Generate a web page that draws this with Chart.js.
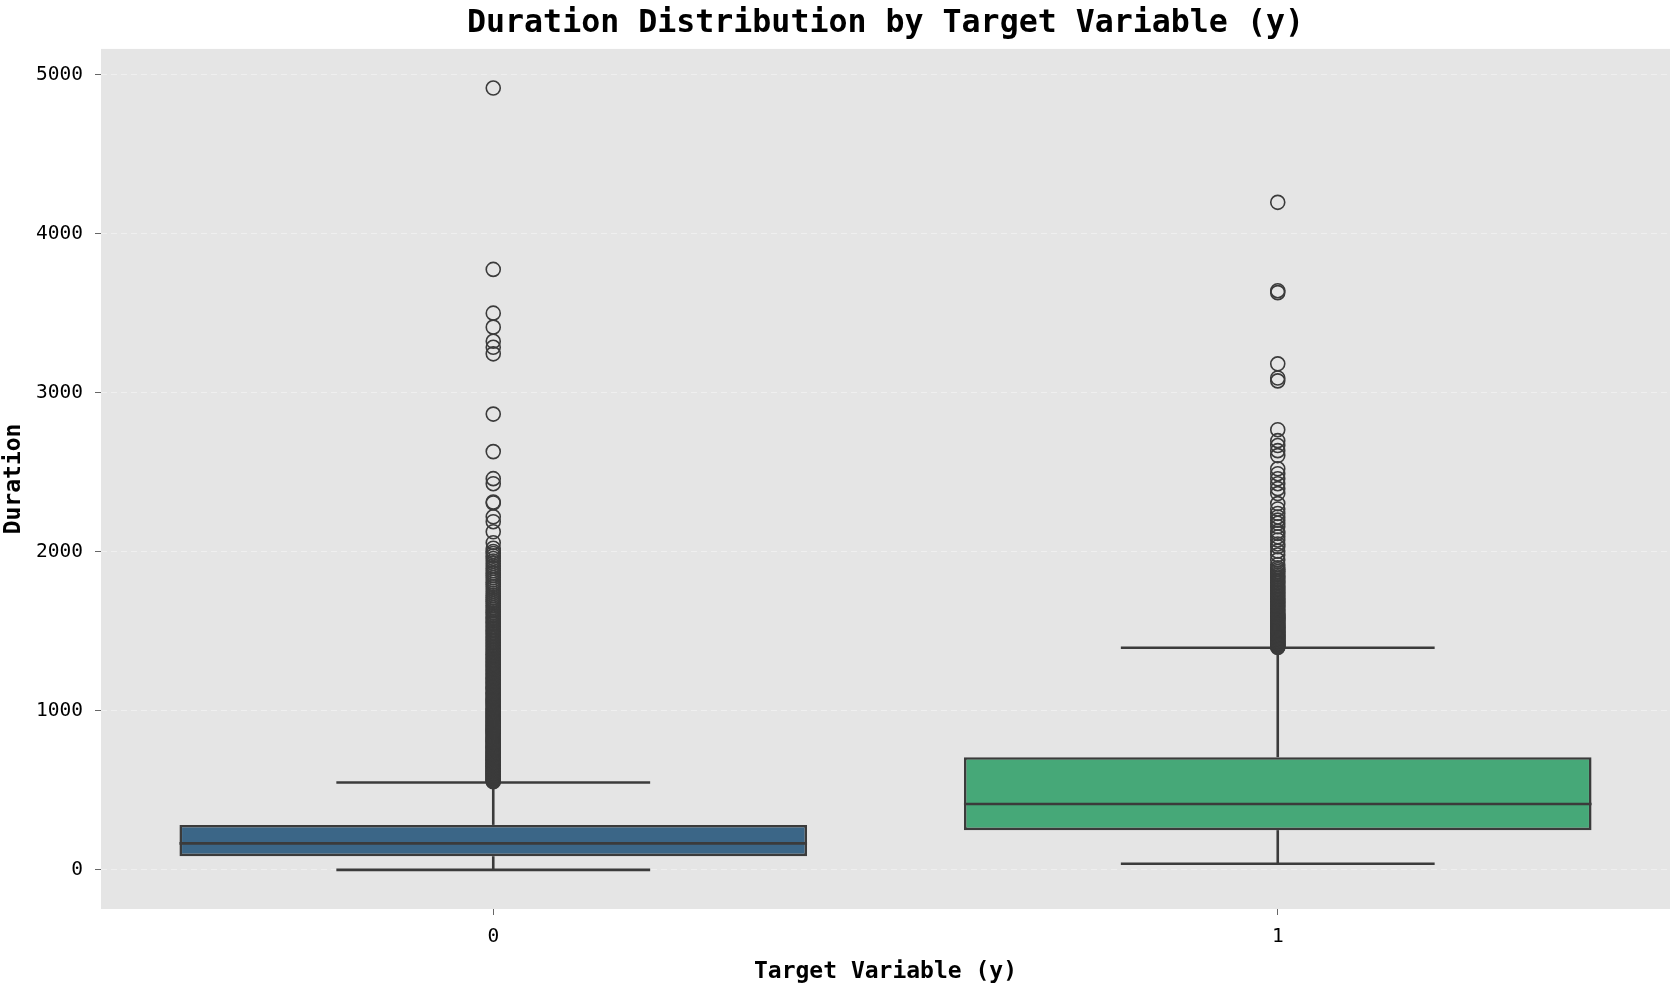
<!DOCTYPE html>
<html>
<head>
<meta charset="utf-8">
<script src="https://cdn.jsdelivr.net/npm/chart.js@4/dist/chart.umd.min.js"></script>
<style>
    body { margin: 0; background: #ffffff; }
    #wrap { width: 1672px; height: 986px; }
</style>
</head>
<body>
<div id="wrap"><canvas id="box-chart" width="1672" height="986"></canvas></div>
<script>
// categories of y and box statistics
const categories = ['0', '1'];
const q1 = [86, 250];
const medians = [167, 414];
const q3 = [283, 709];
const whiskerLow = [0, 39];
const whiskerHigh = [550, 1397];

// outliers (y = 0): solid column above the whisker, then sparse points
const outliers0 = [
    555, 559, 563, 567, 571, 576, 580, 584, 589, 593, 597, 602, 606, 611, 615, 620,
    624, 629, 633, 638, 643, 647, 652, 657, 661, 666, 671, 676, 681, 686, 690, 695,
    700, 705, 710, 716, 721, 726, 731, 736, 741, 747, 752, 757, 763, 768, 773, 779,
    784, 790, 795, 801, 806, 812, 818, 823, 829, 835, 840, 846, 852, 858, 864, 870,
    876, 882, 888, 894, 900, 906, 912, 919, 925, 931, 937, 944, 950, 957, 963, 970,
    976, 983, 989, 996,
    1003, 1010, 1017, 1024, 1031, 1038, 1045, 1052, 1059, 1066, 1074, 1081, 1088, 1096,
    1103, 1111, 1118, 1126, 1134, 1141, 1149, 1157, 1165, 1173, 1181, 1189, 1197, 1205,
    1213, 1221, 1230, 1238, 1246, 1255, 1263, 1272, 1280, 1289, 1298, 1306, 1315, 1324,
    1333, 1342, 1351, 1360, 1369, 1378, 1388, 1397, 1406, 1416, 1425, 1435, 1444, 1454,
    1464, 1473, 1483, 1493, 1503, 1513, 1523, 1533, 1544, 1554, 1564, 1575, 1585, 1596,
    1606, 1617, 1628, 1639, 1650,
    1662, 1675, 1688, 1700, 1713, 1727, 1740, 1753, 1767, 1781, 1795, 1809, 1823, 1838,
    1852, 1867, 1882, 1897, 1912, 1928, 1943, 1959, 1975, 1990, 2003,
    2023, 2058, 2127, 2190, 2221, 2308, 2314, 2429, 2461, 2631, 2867,
    3246, 3287, 3325, 3414, 3502, 3777, 4918
];

// outliers (y = 1)
const outliers1 = [
    1399, 1403, 1407, 1411, 1416, 1420, 1424, 1429, 1433, 1438, 1442, 1447, 1452, 1456,
    1461, 1466, 1471, 1476, 1481, 1486, 1491, 1496, 1501, 1507, 1512, 1517, 1523, 1528,
    1534, 1540, 1545, 1551, 1557, 1563, 1569, 1575, 1581, 1587, 1593, 1600,
    1608, 1616, 1624, 1633, 1641, 1650, 1658, 1667, 1676, 1685, 1694, 1703, 1712, 1722,
    1731, 1741, 1750, 1760, 1770, 1780, 1790, 1801, 1811, 1822, 1832, 1843, 1854, 1865,
    1877, 1888, 1900,
    1920, 1950, 1981, 2005, 2033, 2050, 2075, 2095, 2117, 2130, 2158, 2180, 2200,
    2220, 2242, 2270, 2304, 2367, 2398, 2429, 2460, 2492, 2523, 2606, 2637, 2669, 2700,
    2769, 3076, 3094, 3183, 3631, 3643, 4199
];

const yTicks = [0, 1000, 2000, 3000, 4000, 5000];
const yMin = -246;
const yMax = 5164;

const boxColors = ['#3b6687', '#46a878'];
const lineColor = '#3b3b3b';
const monoFont = '"DejaVu Sans Mono", monospace';

const outlierPoints = outliers0.map(v => ({x: '0', y: v}))
    .concat(outliers1.map(v => ({x: '1', y: v})));

const plotBackground = {
    id: 'plotBackground',
    beforeDraw(chart) {
        const {ctx, chartArea} = chart;
        ctx.save();
        ctx.fillStyle = '#e5e5e5';
        ctx.fillRect(chartArea.left, chartArea.top, chartArea.right - chartArea.left, chartArea.bottom - chartArea.top);
        ctx.restore();
    }
};

function seg(ctx, x1, y1, x2, y2) {
    ctx.beginPath();
    ctx.moveTo(x1, y1);
    ctx.lineTo(x2, y2);
    ctx.stroke();
}

// whiskers go under the boxes, medians on top of them
const boxParts = {
    id: 'boxParts',
    beforeDatasetsDraw(chart) {
        const {ctx, scales: {x, y}} = chart;
        const unit = x.getPixelForValue(1) - x.getPixelForValue(0);
        ctx.save();
        ctx.strokeStyle = lineColor;
        ctx.lineWidth = 2.6;
        categories.forEach((c, i) => {
            const xc = x.getPixelForValue(i);
            const half = unit * 0.2;
            seg(ctx, xc, y.getPixelForValue(whiskerLow[i]), xc, y.getPixelForValue(q1[i]));
            seg(ctx, xc, y.getPixelForValue(q3[i]), xc, y.getPixelForValue(whiskerHigh[i]));
            seg(ctx, xc - half, y.getPixelForValue(whiskerLow[i]), xc + half, y.getPixelForValue(whiskerLow[i]));
            seg(ctx, xc - half, y.getPixelForValue(whiskerHigh[i]), xc + half, y.getPixelForValue(whiskerHigh[i]));
        });
        ctx.restore();
    },
    afterDatasetsDraw(chart) {
        const {ctx, scales: {x, y}} = chart;
        const unit = x.getPixelForValue(1) - x.getPixelForValue(0);
        ctx.save();
        ctx.strokeStyle = lineColor;
        ctx.lineWidth = 2.6;
        categories.forEach((c, i) => {
            const xc = x.getPixelForValue(i);
            const half = unit * 0.4;
            seg(ctx, xc - half, y.getPixelForValue(medians[i]), xc + half, y.getPixelForValue(medians[i]));
        });
        ctx.restore();
    }
};

new Chart(document.getElementById('box-chart'), {
    type: 'bar',
    data: {
        labels: categories,
        datasets: [
            {
                type: 'scatter',
                data: outlierPoints,
                pointRadius: 7,
                pointBorderWidth: 1.6,
                borderColor: lineColor,
                backgroundColor: 'rgba(0,0,0,0)',
                order: 1
            },
            {
                type: 'bar',
                data: categories.map((c, i) => [q1[i], q3[i]]),
                backgroundColor: boxColors,
                borderColor: lineColor,
                borderWidth: 2.6,
                borderSkipped: false,
                barPercentage: 1,
                categoryPercentage: 0.8,
                order: 2
            }
        ]
    },
    options: {
        responsive: false,
        devicePixelRatio: 1,
        animation: false,
        layout: {autoPadding: false, padding: {left: 0, right: 2, top: 0, bottom: 0}},
        plugins: {
            legend: {display: false},
            tooltip: {enabled: false},
            title: {
                display: true,
                fullSize: false,
                text: 'Duration Distribution by Target Variable (y)',
                color: '#000000',
                font: {family: monoFont, size: 31.6, weight: 'bold', lineHeight: 1.2},
                padding: {top: 5, bottom: 6}
            }
        },
        scales: {
            x: {
                type: 'category',
                offset: true,
                grid: {display: true, drawOnChartArea: false, drawTicks: true, offset: false,
                       tickLength: 6, tickColor: '#666666', tickWidth: 1},
                border: {display: false},
                ticks: {color: '#000000', padding: 10, font: {family: monoFont, size: 19.5}},
                title: {
                    display: true,
                    text: 'Target Variable (y)',
                    color: '#000000',
                    font: {family: monoFont, size: 23, weight: 'bold', lineHeight: 1.2},
                    padding: {top: 0, bottom: 0}
                },
                afterFit(scale) {
                    scale.height = 77;
                    scale.paddingLeft = 0;
                    scale.paddingRight = 0;
                }
            },
            y: {
                min: yMin,
                max: yMax,
                grid: {color: '#efefef', lineWidth: 1, drawTicks: true, tickLength: 6,
                       tickColor: '#666666', tickWidth: 1, tickBorderDash: []},
                border: {display: false, dash: [6, 4]},
                ticks: {
                    color: '#000000',
                    padding: 12,
                    font: {family: monoFont, size: 19.5},
                    callback: v => String(v)
                },
                afterBuildTicks(scale) { scale.ticks = yTicks.map(v => ({value: v})); },
                title: {
                    display: true,
                    text: 'Duration',
                    color: '#000000',
                    font: {family: monoFont, size: 23, weight: 'bold', lineHeight: 1.2},
                    padding: {top: 0, bottom: 0}
                },
                afterFit(scale) { scale.width = 101; }
            }
        }
    },
    plugins: [plotBackground, boxParts]
});
</script>
</body>
</html>
